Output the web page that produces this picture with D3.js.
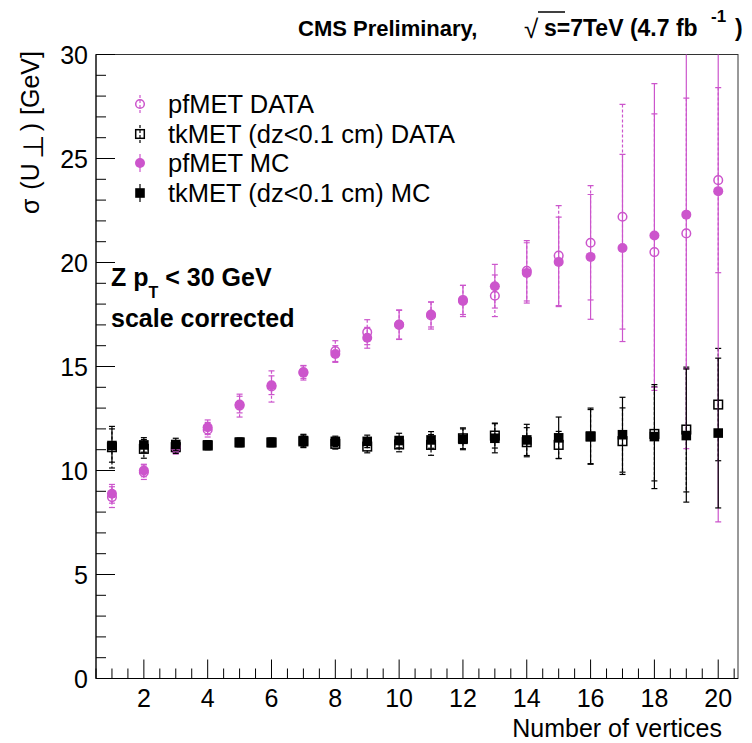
<!DOCTYPE html>
<html>
<head>
<meta charset="utf-8">
<script src="https://cdn.jsdelivr.net/npm/d3@7"></script>
<style>
  body { margin: 0; background: #fff; }
  text { font-family: "Liberation Sans", Arial, Helvetica, sans-serif; }
</style>
</head>
<body>
<script>
// number of reconstructed vertices (bin centres)
var nVtx = [1, 2, 3, 4, 5, 6, 7, 8, 9, 10, 11, 12, 13, 14, 15, 16, 17, 18, 19, 20];

// sigma(U_perp) [GeV]
var pfData    = [8.72, 9.92, 11.04, 11.96, 13.12, 14.04, 14.73, 15.74, 16.65, 17.0, 17.45, 18.2, 18.4, 19.6, 20.33, 20.95, 22.2, 20.5, 21.4, 23.96];
var pfDataErr = [0.5, 0.35, 0.25, 0.35, 0.55, 0.75, 0.3, 0.5, 0.6, 0.7, 0.65, 0.7, 1.0, 1.45, 2.4, 2.75, 5.4, 6.65, 6.5, 4.45];
var tkData    = [11.12, 11.04, 11.12, 11.2, 11.35, 11.35, 11.4, 11.28, 11.15, 11.25, 11.23, 11.55, 11.68, 11.36, 11.23, 11.63, 11.41, 11.76, 11.97, 13.17];
var tkDataErr = [1.0, 0.45, 0.3, 0.2, 0.2, 0.2, 0.3, 0.25, 0.3, 0.35, 0.5, 0.5, 0.6, 0.7, 0.65, 1.3, 1.6, 2.26, 3.0, 2.7];
var pfMC      = [8.88, 10.0, 11.12, 12.08, 13.17, 14.1, 14.7, 15.6, 16.38, 17.02, 17.5, 18.15, 18.86, 19.5, 20.03, 20.27, 20.7, 21.3, 22.3, 23.43];
var pfMCErr   = [0.45, 0.3, 0.2, 0.35, 0.4, 0.45, 0.35, 0.4, 0.5, 0.7, 0.6, 0.75, 1.05, 1.45, 2.15, 3.0, 4.5, 7.3, 11.25, 15.9];
var tkMC      = [11.2, 11.23, 11.25, 11.23, 11.35, 11.35, 11.44, 11.4, 11.4, 11.44, 11.47, 11.5, 11.55, 11.47, 11.57, 11.65, 11.72, 11.63, 11.68, 11.8];
var tkMCErr   = [0.8, 0.35, 0.3, 0.2, 0.2, 0.2, 0.3, 0.25, 0.3, 0.35, 0.4, 0.5, 0.7, 0.75, 1.0, 1.35, 1.8, 2.5, 3.2, 3.6];

var legendLabels = ["pfMET DATA", "tkMET (dz<0.1 cm) DATA", "pfMET MC", "tkMET (dz<0.1 cm) MC"];
var xTickLabels = [2, 4, 6, 8, 10, 12, 14, 16, 18, 20];
var yTickLabels = [0, 5, 10, 15, 20, 25, 30];

// frame in pixels
var W = 752, H = 743;
var fx0 = 96, fx1 = 738, fy0 = 54.5, fy1 = 678.5;
var pink = "#cc55cc";

var svg = d3.select("body").append("svg").attr("width", W).attr("height", H);

var x = d3.scaleLinear().domain([0.5, 20.62]).range([fx0, fx1]);
var y = d3.scaleLinear().domain([0, 30]).range([fy1, fy0]);

svg.append("clipPath").attr("id", "frame")
  .append("rect").attr("x", fx0).attr("y", fy0).attr("width", fx1 - fx0).attr("height", fy1 - fy0);

// frame
svg.append("rect").attr("x", fx0).attr("y", fy0).attr("width", fx1 - fx0).attr("height", fy1 - fy0)
  .attr("fill", "none").attr("stroke", "#333").attr("stroke-width", 1);

// y axis: major every 5, minor every 1
var yAxis = svg.append("g").attr("transform", "translate(" + fx0 + ",0)");
yAxis.selectAll(".t").data(d3.range(0, 31, 1)).enter().append("line")
  .attr("x1", 0).attr("x2", function (d) { return d % 5 === 0 ? 19 : 10; })
  .attr("y1", function (d) { return y(d); }).attr("y2", function (d) { return y(d); })
  .attr("stroke", "#000").attr("stroke-width", 1);
yAxis.append("line").attr("x1", 0).attr("x2", 0).attr("y1", fy0).attr("y2", fy1).attr("stroke", "#000");
yAxis.selectAll(".lab").data(yTickLabels).enter().append("text")
  .attr("x", -8).attr("y", function (d) { return y(d) + 9; })
  .attr("text-anchor", "end").attr("font-size", 25).text(function (d) { return d; });

// x axis: major every 2, minor every 0.5
var xAxis = svg.append("g").attr("transform", "translate(0," + fy1 + ")");
xAxis.selectAll(".t").data(d3.range(0.5, 20.51, 0.5)).enter().append("line")
  .attr("x1", function (d) { return x(d); }).attr("x2", function (d) { return x(d); })
  .attr("y1", 0).attr("y2", function (d) { return d % 2 === 0 ? -19 : -10; })
  .attr("stroke", "#000").attr("stroke-width", 1);
xAxis.append("line").attr("x1", fx0).attr("x2", fx1).attr("y1", 0).attr("y2", 0).attr("stroke", "#000");
xAxis.selectAll(".lab").data(xTickLabels).enter().append("text")
  .attr("x", function (d) { return x(d); }).attr("y", 28)
  .attr("text-anchor", "middle").attr("font-size", 25).text(function (d) { return d; });

svg.append("text").attr("x", 722).attr("y", 737).attr("text-anchor", "end")
  .attr("font-size", 25).text("Number of vertices");

// y title, sigma(U_perp)
var yl = svg.append("text").attr("transform", "translate(39,51) rotate(-90)")
  .attr("text-anchor", "end").attr("font-size", 25);
yl.append("tspan").text("\u03c3");
yl.append("tspan").attr("dx", 9).text("(U");
yl.append("tspan").attr("dx", 4).attr("dy", 4).attr("font-size", 28).text("\u22a5");
yl.append("tspan").attr("dx", 4).attr("dy", -4).text(")");
yl.append("tspan").attr("dx", 8).text("[GeV]");

// series
var series = [
  { vals: pfData, errs: pfDataErr, color: pink, shape: "circle", filled: false, dash: "3,2" },
  { vals: tkData, errs: tkDataErr, color: "#000", shape: "square", filled: false, dash: "3,2" },
  { vals: pfMC, errs: pfMCErr, color: pink, shape: "circle", filled: true, dash: null },
  { vals: tkMC, errs: tkMCErr, color: "#000", shape: "square", filled: true, dash: null }
];

var plot = svg.append("g").attr("clip-path", "url(#frame)");

function drawMarker(g, s, cx, cy) {
  if (s.shape === "circle") {
    g.append("circle").attr("cx", cx).attr("cy", cy).attr("r", s.filled ? 5 : 4.3)
      .attr("fill", s.filled ? s.color : "none").attr("stroke", s.color)
      .attr("stroke-width", s.filled ? 0 : 1.5);
  } else {
    var h = s.filled ? 4.8 : 4.3;
    g.append("rect").attr("x", cx - h).attr("y", cy - h).attr("width", 2 * h).attr("height", 2 * h)
      .attr("fill", s.filled ? s.color : "none").attr("stroke", s.color)
      .attr("stroke-width", s.filled ? 0 : 1.5);
  }
}

series.forEach(function (s) {
  var pts = nVtx.map(function (n, i) { return { n: n, v: s.vals[i], e: s.errs[i] }; });
  var g = plot.append("g");
  // error bars
  g.selectAll(".eb").data(pts).enter().append("line")
    .attr("x1", function (d) { return x(d.n); }).attr("x2", function (d) { return x(d.n); })
    .attr("y1", function (d) { return y(d.v + d.e); }).attr("y2", function (d) { return y(d.v - d.e); })
    .attr("stroke", s.color).attr("stroke-width", 1.2)
    .attr("stroke-dasharray", s.dash);
  [1, -1].forEach(function (sign) {
    g.selectAll(".cap" + (sign > 0 ? "u" : "d")).data(pts).enter().append("line")
      .attr("x1", function (d) { return x(d.n) - 3; }).attr("x2", function (d) { return x(d.n) + 3; })
      .attr("y1", function (d) { return y(d.v + sign * d.e); }).attr("y2", function (d) { return y(d.v + sign * d.e); })
      .attr("stroke", s.color).attr("stroke-width", 1.2);
  });
  pts.forEach(function (d) { drawMarker(g, s, x(d.n), y(d.v)); });
});

// legend
var legY = [104, 134, 163, 193];
series.forEach(function (s, i) {
  var g = svg.append("g");
  g.append("line").attr("x1", 140).attr("x2", 140).attr("y1", legY[i] - 9).attr("y2", legY[i] + 9)
    .attr("stroke", s.color).attr("stroke-width", 1.2).attr("stroke-dasharray", s.dash);
  drawMarker(g, s, 140, legY[i]);
  g.append("text").attr("x", 168).attr("y", legY[i] + 9).attr("font-size", 25.5).text(legendLabels[i]);
});

// annotation
var ann = svg.append("text").attr("x", 111).attr("y", 286).attr("font-size", 25).attr("font-weight", "bold");
ann.append("tspan").text("Z p");
ann.append("tspan").attr("dy", 12).attr("font-size", 16).text("T");
ann.append("tspan").attr("dy", -12).text(" < 30 GeV");
svg.append("text").attr("x", 111).attr("y", 327).attr("font-size", 25).attr("font-weight", "bold")
  .text("scale corrected");

// title
svg.append("text").attr("x", 298).attr("y", 36).attr("font-size", 22).attr("font-weight", "bold")
  .text("CMS Preliminary,");
svg.append("text").attr("x", 524).attr("y", 38).attr("font-size", 26).text("\u221a");
svg.append("line").attr("x1", 538).attr("x2", 565).attr("y1", 12).attr("y2", 12).attr("stroke", "#000").attr("stroke-width", 1.5);
svg.append("text").attr("x", 544).attr("y", 36).attr("font-size", 23).attr("font-weight", "bold")
  .text("s=7TeV (4.7 fb");
svg.append("text").attr("x", 711).attr("y", 22).attr("font-size", 17).attr("font-weight", "bold").text("-1");
svg.append("text").attr("x", 735).attr("y", 36).attr("font-size", 23).attr("font-weight", "bold").text(")");
</script>
</body>
</html>
